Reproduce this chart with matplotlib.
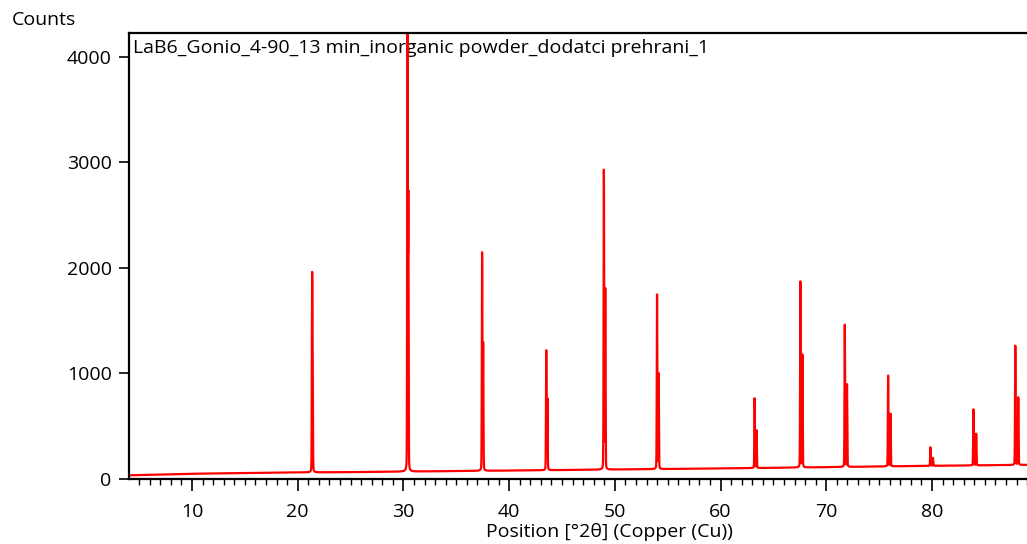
import matplotlib.pyplot as plt
import numpy as np

# LaB6 reflections: K-alpha1 position / height and K-alpha2 position / height (above background)
peak_pos = [21.36, 30.38, 37.44, 43.51, 48.96, 53.99, 63.22, 67.55, 71.75, 75.85, 79.85, 83.92, 87.88]
peak_height = [1710, 4800, 2057, 1130, 2830, 1650, 660, 1760, 1345, 860, 175, 530, 1130]
ka2_pos = [21.41, 30.46, 37.54, 43.62, 49.09, 54.14, 63.40, 67.74, 71.96, 76.07, 80.09, 84.18, 88.16]
ka2_height = [1000, 2550, 1195, 670, 1700, 900, 355, 1065, 780, 497, 75, 300, 640]

# background level
bg_pos = [4, 10, 20, 25, 30, 40, 50, 60, 70, 80, 90]
bg_level = [35, 50, 62, 65, 70, 80, 90, 100, 112, 125, 135]

fwhm = 0.06

two_theta = np.arange(4, 90, 0.005)
counts = np.interp(two_theta, bg_pos, bg_level)
for p, h in zip(peak_pos + ka2_pos, peak_height + ka2_height):
    g = np.exp(-4 * np.log(2) * ((two_theta - p) / fwhm) ** 2)
    l = 1 / (1 + 4 * ((two_theta - p) / fwhm) ** 2)
    counts = counts + h * (0.85 * g + 0.15 * l)

plt.rcParams['font.family'] = ['Open Sans', 'DejaVu Sans']

fig = plt.figure(figsize=(10.27, 5.44), dpi=100)
ax = fig.add_axes([128.6 / 1027, 1 - 479 / 544, 909.1 / 1027, 446 / 544])
ax.plot(two_theta, counts, color='#ff0000', lw=1.6, zorder=2)

ax.set_xlim(4, 90)
ax.set_ylim(0, 4227)
ax.set_xticks([10, 20, 30, 40, 50, 60, 70, 80])
ax.set_xticks(np.arange(5, 90, 1), minor=True)
ax.set_yticks([0, 1000, 2000, 3000, 4000])
ax.tick_params(axis='both', which='major', width=1.2, labelsize=14, direction='out')
ax.tick_params(axis='x', which='major', length=8.6, pad=8.5)
ax.tick_params(axis='x', which='minor', length=4, width=1.0, direction='out')
ax.tick_params(axis='y', which='major', length=7.2, pad=5)
for s in ['left', 'top', 'bottom']:
    ax.spines[s].set_linewidth(1.6)
ax.spines['right'].set_visible(False)

ax.text((133 - 128.6) / 909.1, (479 - 48) / 446,
        'LaB6_Gonio_4-90_13 min_inorganic powder_dodatci prehrani_1',
        transform=ax.transAxes, fontsize=14, va='center', ha='left', zorder=1)
fig.text(12 / 1027, 1 - 20 / 544, 'Counts', fontsize=14, va='center', ha='left')
fig.text(609 / 1027, 1 - 532 / 544, 'Position [°2θ] (Copper (Cu))', fontsize=14, va='center', ha='center')

fig.savefig('out.png', dpi=100)
